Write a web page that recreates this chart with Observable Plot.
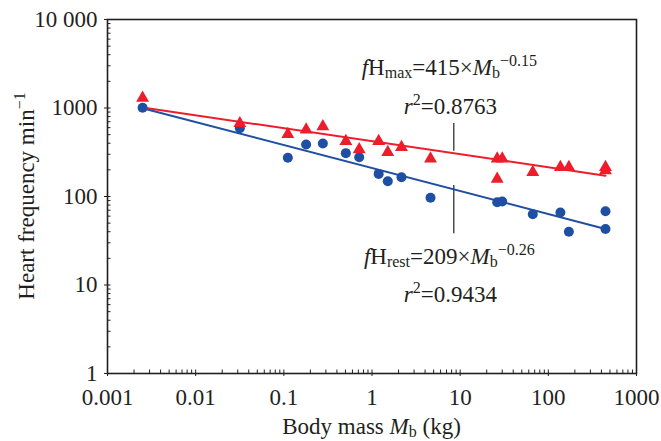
<!DOCTYPE html>
<html><head><meta charset="utf-8">
<script src="https://cdn.jsdelivr.net/npm/d3@7"></script>
<script src="https://cdn.jsdelivr.net/npm/@observablehq/plot@0.6"></script>
<style>
body{margin:0;background:#fff;}
svg text{font-family:"Liberation Serif","Times New Roman",serif;}
</style></head><body><div id="chart"></div>
<script>
// ---- data ----
const maxMass = [0.0025,0.0317,0.111,0.179,0.277,0.505,0.716,1.19,1.51,2.16,4.61,26.3,30,26.3,66.6,137,171,445,445];
const maxRate = [1300,670,505,567,618,421,340,421,317,361,267,267,267,158,188,214,214,214,197];
const restMass = [0.0025,0.0317,0.111,0.179,0.277,0.505,0.716,1.19,1.51,2.16,4.61,26.3,30,66.6,137,171,445,445];
const restRate = [1005,590,274,387,397,309,278,180,149,165,97,86,88,63,66,40,68,43];
const fitMass = [0.0025, 445];
const fitMax = [1015, 172];
const fitRest = [995, 43];
const xTicks = [0.001,0.01,0.1,1,10,100,1000];
const xTickLabels = ["0.001","0.01","0.1","1","10","100","1000"];
const yTicks = [1,10,100,1000,10000];
const yTickLabels = ["1","10","100","1000","10 000"];
const minorMultipliers = [1,2,3,4,5,6,7,8,9];

const RED = "#ee1d2b", BLUE = "#1f4fa3", INK = "#231f20";
const FS = 23;

const maxData = maxMass.map((m,i)=>({m, f:maxRate[i]}));
const restData = restMass.map((m,i)=>({m, f:restRate[i]}));
const fitData = fitMass.map((m,i)=>({m, max:fitMax[i], rest:fitRest[i]}));
const xMinor = xTicks.slice(0,-1).flatMap(d=>minorMultipliers.map(k=>d*k)).concat([1000]);
const yMinor = yTicks.slice(0,-1).flatMap(d=>minorMultipliers.map(k=>d*k)).concat([10000]);
const xLab = d => { const i = xTicks.findIndex(t => Math.abs(t - d) / t < 1e-6); return i < 0 ? "" : xTickLabels[i]; };
const yLab = d => { const i = yTicks.findIndex(t => Math.abs(t - d) / t < 1e-6); return i < 0 ? "" : yTickLabels[i]; };

// leader lines (annotation)
const leader = [{m:8.47, y1:668, y2:325},{m:8.47, y1:133, y2:38}];

const chart = Plot.plot({
  width: 661, height: 441,
  marginLeft: 107, marginRight: 25, marginTop: 19, marginBottom: 68,
  x: {type:"log", domain:[0.001,1000]},
  y: {type:"log", domain:[1,10000]},
  style: {fontFamily:"Liberation Serif, serif", color: INK, background:"#fff"},
  marks: [
    Plot.axisX({ticks: xMinor, tickSize: -3.5, tickFormat: () => null, label: null}),
    Plot.axisX({ticks: xTicks, tickSize: 3, tickPadding: 12, tickFormat: xLab, fontSize: FS, label: null}),
    Plot.axisY({ticks: yMinor, tickSize: -3.5, tickFormat: () => null, label: null}),
    Plot.axisY({ticks: yTicks, tickSize: 3, tickPadding: 7, tickFormat: yLab, fontSize: FS, label: null}),
    Plot.frame({stroke: INK, strokeWidth: 1.6}),
    Plot.ruleX(leader, {x:"m", y1:"y1", y2:"y2", stroke: INK, strokeWidth: 1.2}),
    Plot.line(fitData, {x:"m", y:"rest", stroke: BLUE, strokeWidth: 2}),
    Plot.line(fitData, {x:"m", y:"max", stroke: RED, strokeWidth: 2}),
    Plot.dot(restData, {x:"m", y:"f", r:5, fill: BLUE}),
    Plot.dot(maxData, {x:"m", y:"f", r:4.8, symbol:"triangle", fill: RED})
  ]
});
document.getElementById("chart").append(chart);

const xs = chart.scale("x"), ys = chart.scale("y");
const svg = d3.select(chart);
function addRich(x, y, parts, opts={}) {
  const t = svg.append("text").attr("x", x).attr("y", y)
    .attr("text-anchor", opts.anchor || "middle")
    .attr("font-size", FS).attr("fill", INK);
  if (opts.transform) t.attr("transform", opts.transform);
  let shift = 0;
  for (const p of parts) {
    const s = t.append("tspan").text(p.t);
    const target = p.dy || 0;
    if (target !== shift) { s.attr("dy", target - shift); shift = target; }
    if (p.i) s.attr("font-style", "italic");
    if (p.s) s.attr("font-size", p.s);
  }
  return t;
}
const SM = 16;
// annotations
const ax = xs.apply(8.47) - 4;
addRich(ax, 75, [
  {t:"f", i:true},{t:"H"},{t:"max", s:SM, dy:3},{t:"=415×"},{t:"M", i:true},{t:"b", s:SM, dy:3},{t:"−0.15", s:SM, dy:-9}
]);
addRich(ax + 1, 114, [{t:"r", i:true},{t:"2", s:SM, dy:-9},{t:"=0.8763"}]);
addRich(ax, 264, [
  {t:"f", i:true},{t:"H"},{t:"rest", s:SM, dy:3},{t:"=209×"},{t:"M", i:true},{t:"b", s:SM, dy:3},{t:"−0.26", s:SM, dy:-9}
]);
addRich(ax + 1, 302, [{t:"r", i:true},{t:"2", s:SM, dy:-9},{t:"=0.9434"}]);
// axis labels
addRich((xs.range[0]+xs.range[1])/2, 434, [{t:"Body mass "},{t:"M", i:true},{t:"b", s:SM, dy:3},{t:" (kg)"}]);
const yc = (ys.range[0]+ys.range[1])/2;
addRich(0, 0, [{t:"Heart frequency min"},{t:"−1", s:SM, dy:-9}], {transform:`translate(34,${yc}) rotate(-90)`});
</script>
</body></html>
